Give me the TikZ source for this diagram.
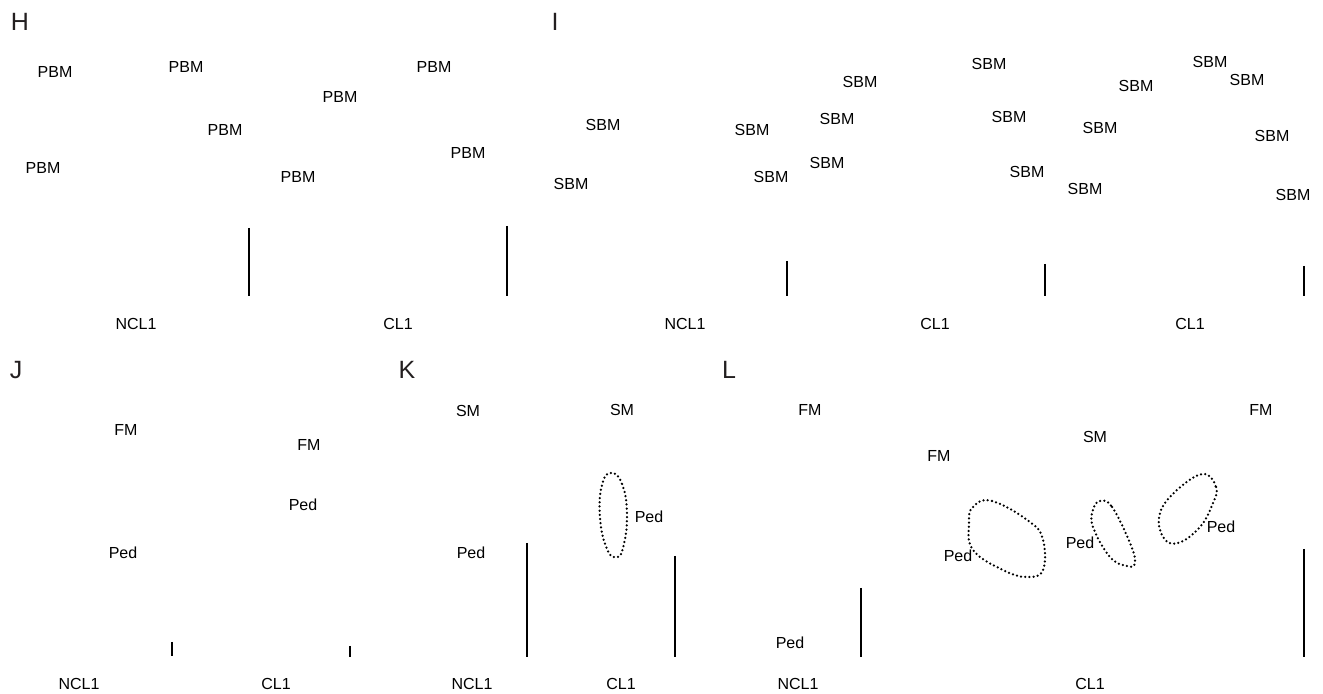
\documentclass[tikz,border=0pt]{standalone}
\usepackage{fontspec}
\setmainfont{Liberation Sans}
\usepackage{tikz}
\usetikzlibrary{calc}
\definecolor{inkText}{RGB}{35, 31, 32}

\tikzset{
  lbl/.style={font=\fontsize{8}{9}\selectfont, text=black, inner sep=0pt},
  panel/.style={font=\fontsize{12.5}{14}\selectfont, text=inkText, inner sep=0pt},
  bar/.style={line width=1pt},
  outline/.style={line width=1.25pt, line cap=round, dash pattern=on 0pt off 2.1pt}
}

\begin{document}
\begin{tikzpicture}[x=0.5pt, y=-0.5pt]
  \useasboundingbox (0,0) rectangle (1323,694);

  % Panel H
  \node[panel] (pH) at (20,22) {H};
  \foreach \x/\y [count=\i] in {55/72, 186/67, 434/67, 340/97, 225/130, 43/168, 298/177, 468/153}
    \node[lbl] (pbm\i) at (\x,\y) {PBM};
  \draw[bar] (249,228) -- (249,296);
  \draw[bar] (507,226) -- (507,296);
  \node[lbl] (hNcl) at (136,324) {NCL1};
  \node[lbl] (hCl) at (398,324) {CL1};

  % Panel I
  \node[panel] (pI) at (555,22) {I};
  \foreach \x/\y [count=\i] in {860/82, 989/64, 1210/62, 1136/86, 1247/80, 603/125,
      752/130, 837/119, 1009/117, 1100/128, 1272/136, 571/184, 771/177, 827/163,
      1027/172, 1085/189, 1293/195}
    \node[lbl] (sbm\i) at (\x,\y) {SBM};
  \draw[bar] (787,261) -- (787,296);
  \draw[bar] (1045,264) -- (1045,296);
  \draw[bar] (1304,266) -- (1304,296);
  \node[lbl] (iNcl) at (685,324) {NCL1};
  \node[lbl] (iClA) at (935,324) {CL1};
  \node[lbl] (iClB) at (1190,324) {CL1};

  % Panel J
  \node[panel] (pJ) at (16,370) {J};
  \node[lbl] (jFmA) at (126,430) {FM};
  \node[lbl] (jFmB) at (309,445) {FM};
  \node[lbl] (jPedA) at (303,505) {Ped};
  \node[lbl] (jPedB) at (123,553) {Ped};
  \draw[bar] (172,642) -- (172,656);
  \draw[bar] (350,646) -- (350,657);
  \node[lbl] (jNcl) at (79,684) {NCL1};
  \node[lbl] (jCl) at (276,684) {CL1};

  % Panel K
  \node[panel] (pK) at (407,370) {K};
  \node[lbl] (kSmA) at (468,411) {SM};
  \node[lbl] (kSmB) at (622,410) {SM};
  \node[lbl] (kPedA) at (649,517) {Ped};
  \node[lbl] (kPedB) at (471,553) {Ped};
  \draw[outline] plot[smooth cycle, tension=0.8] coordinates
    {(611,473) (622,484) (627,515) (623,548) (616,557) (607,549) (600,518) (602,485)};
  \draw[bar] (527,543) -- (527,657);
  \draw[bar] (675,556) -- (675,657);
  \node[lbl] (kNcl) at (472,684) {NCL1};
  \node[lbl] (kCl) at (621,684) {CL1};

  % Panel L
  \node[panel] (pL) at (729,370) {L};
  \node[lbl] (lFmA) at (810,410) {FM};
  \node[lbl] (lFmB) at (1261,410) {FM};
  \node[lbl] (lSm) at (1095,437) {SM};
  \node[lbl] (lFmC) at (939,456) {FM};
  \node[lbl] (lPedA) at (958,556) {Ped};
  \node[lbl] (lPedB) at (1080,543) {Ped};
  \node[lbl] (lPedC) at (1221,527) {Ped};
  \node[lbl] (lPedD) at (790,643) {Ped};
  \draw[outline] plot[smooth cycle, tension=0.7] coordinates
    {(973,507) (992,501) (1030,522) (1043,540) (1043,570) (1027,577) (1003,570) (973,550) (969,523)};
  \draw[outline] plot[smooth cycle, tension=0.7] coordinates
    {(1100,501) (1112,507) (1130,543) (1135,563) (1127,566) (1110,557) (1093,527) (1093,510)};
  \draw[outline] plot[smooth cycle, tension=0.7] coordinates
    {(1203,474) (1216,487) (1213,503) (1200,527) (1178,543) (1163,537) (1160,513) (1177,490)};
  \draw[bar] (861,588) -- (861,657);
  \draw[bar] (1304,549) -- (1304,657);
  \node[lbl] (lNcl) at (798,684) {NCL1};
  \node[lbl] (lCl) at (1090,684) {CL1};
\end{tikzpicture}
\end{document}
